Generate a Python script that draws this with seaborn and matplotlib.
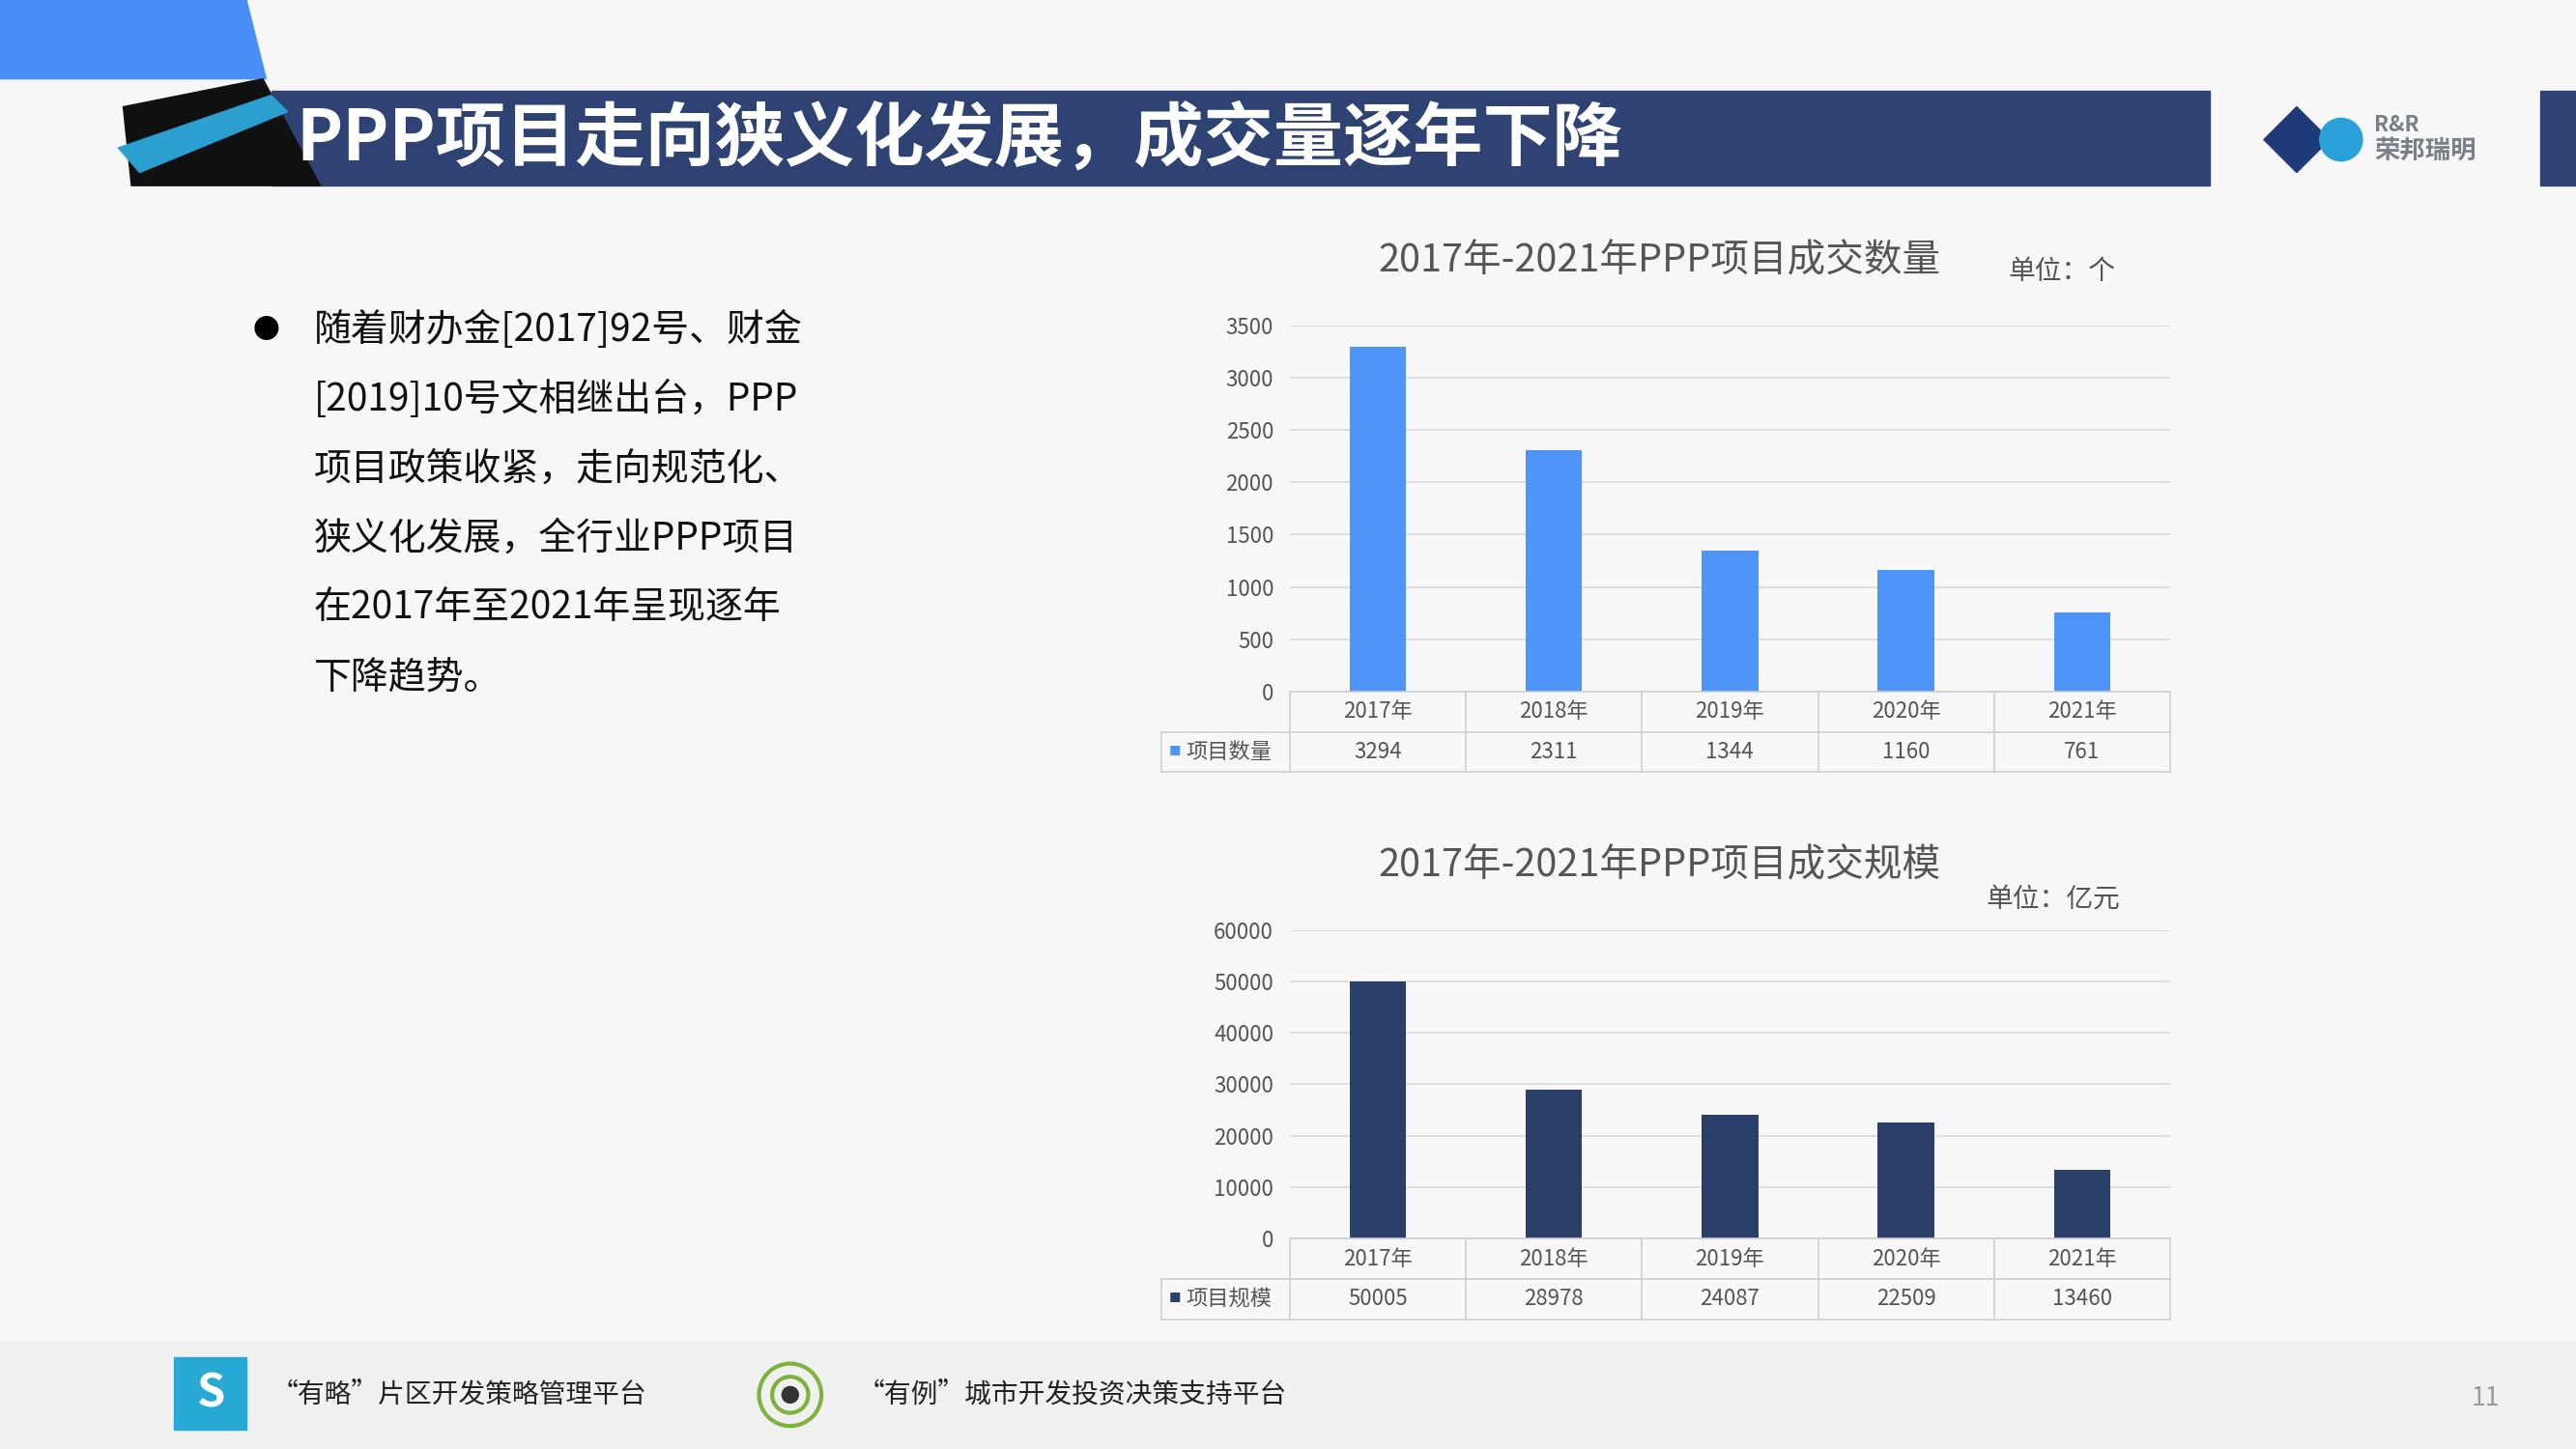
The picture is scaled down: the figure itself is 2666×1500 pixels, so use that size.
import matplotlib
matplotlib.use("Agg")
import matplotlib.pyplot as plt
import seaborn as sns
import pandas as pd
from matplotlib.patches import Rectangle, Polygon, Circle

plt.rcParams["font.family"] = ["Noto Sans CJK SC", "DejaVu Sans"]

years = ["2017年", "2018年", "2019年", "2020年", "2021年"]
counts = [3294, 2311, 1344, 1160, 761]
scales = [50005, 28978, 24087, 22509, 13460]
title = "PPP项目走向狭义化发展，成交量逐年下降"
bullet_lines = ["随着财办金[2017]92号、财金", "[2019]10号文相继出台，PPP", "项目政策收紧，走向规范化、",
                "狭义化发展，全行业PPP项目", "在2017年至2021年呈现逐年", "下降趋势。"]

W, H = 1568, 882
fig = plt.figure(figsize=(26.66, 15), dpi=100)
fig.patch.set_facecolor("#F7F7F7")
bg = fig.add_axes([0, 0, 1, 1]); bg.set_xlim(0, W); bg.set_ylim(H, 0); bg.axis("off")

# header
bg.add_patch(Polygon([[0, 0], [150, 0], [162, 48], [0, 48]], color="#4A8FF5"))
bg.add_patch(Rectangle((165, 55), 1180, 58, color="#2E4374"))
bg.add_patch(Polygon([[75, 65], [160, 48], [195, 113], [80, 113]], color="#111111"))
bg.add_patch(Polygon([[72, 90], [165, 58], [175, 68], [85, 105]], color="#2A9FD0"))
bg.text(180, 85, title, color="white", fontsize=52, fontweight="bold", va="center", ha="left")
bg.add_patch(Rectangle((1546, 55), 22, 58, color="#2E4374"))
bg.add_patch(Polygon([[1378, 85], [1398, 65], [1418, 85], [1398, 105]], color="#1E3A78"))
bg.add_patch(Circle((1425, 85), 13, color="#29A0D8"))
bg.text(1445, 76, "R&R", color="#7A7F87", fontsize=16, fontweight="bold", va="center")
bg.text(1445, 92, "荣邦瑞明", color="#7A7F87", fontsize=19, fontweight="bold", va="center")

# bullet text
bg.text(162, 201, "●", fontsize=20, va="center", ha="center")
for i, ln in enumerate(bullet_lines):
    bg.text(191, 201 + i * 42.4, ln, fontsize=28, va="center", ha="left", color="#111111")

# footer
bg.add_patch(Rectangle((0, 817), W, 65, color="#F0F0F0"))
bg.add_patch(Rectangle((106, 826), 44, 44, color="#27A9D6"))
bg.text(128, 848, "S", color="white", fontsize=34, fontweight="bold", ha="center", va="center")
bg.text(165, 849, "“有略”片区开发策略管理平台", fontsize=20, va="center", color="#222222")
bg.add_patch(Circle((481, 849), 19, fill=False, ec="#7DB33A", lw=3))
bg.add_patch(Circle((481, 849), 11, fill=False, ec="#7DB33A", lw=3))
bg.add_patch(Circle((481, 849), 5, color="#333333"))
bg.text(522, 849, "“有例”城市开发投资决策支持平台", fontsize=20, va="center", color="#222222")
bg.text(1513, 851, "11", fontsize=19, va="center", ha="center", color="#999999")

def chart(rect, vals, color, ymax, step, ttl, unit, unit_xy, label):
    ax = fig.add_axes(rect)
    df = pd.DataFrame({"year": years, "v": vals})
    sns.barplot(data=df, x="year", y="v", color=color, width=0.32, saturation=1, ax=ax)
    ax.set_facecolor("none")
    ax.set_xlim(-0.5, 4.5); ax.set_ylim(0, ymax)
    ax.set_yticks(range(0, ymax + 1, step))
    ax.tick_params(axis="y", labelsize=16, colors="#555555", length=0, pad=12)
    ax.set_xticks([]); ax.set_xlabel(""); ax.set_ylabel("")
    ax.grid(axis="y", color="#D9D9D9", lw=1.2); ax.set_axisbelow(True)
    for s in ax.spines.values(): s.set_visible(False)
    tr = ax.get_xaxis_transform()
    rh = 24.5 / (rect[3] * H)
    lc = "#CFCFCF"
    xl = -1.228
    for yy in [0, -rh, -2 * rh]:
        x0 = -0.5 if yy == 0 else xl
        ax.plot([x0, 4.5], [yy, yy], transform=tr, color=lc, lw=1.2, clip_on=False)
    ax.plot([xl, xl], [-rh, -2 * rh], transform=tr, color=lc, lw=1.2, clip_on=False)
    for k in range(6):
        ax.plot([k - 0.5, k - 0.5], [0, -2 * rh], transform=tr, color=lc, lw=1.2, clip_on=False)
    for k in range(5):
        ax.text(k, -rh / 2, years[k], transform=tr, ha="center", va="center", fontsize=16, color="#555555")
        ax.text(k, -1.5 * rh, str(vals[k]), transform=tr, ha="center", va="center", fontsize=16, color="#555555")
    ax.text(xl + 0.04, -1.5 * rh, "■", transform=tr, ha="left", va="center", fontsize=9, color=color)
    ax.text(xl + 0.14, -1.5 * rh, label, transform=tr, ha="left", va="center", fontsize=16, color="#555555")
    bg.text(1010, ttl[1], ttl[0], fontsize=28.5, ha="center", va="center", color="#555555")
    bg.text(unit_xy[0], unit_xy[1], unit, fontsize=20, ha="center", va="center", color="#555555")

chart([785 / W, 1 - 421 / H, 536 / W, 223 / H], counts, "#4F94F8", 3500, 500,
      ("2017年-2021年PPP项目成交数量", 159), "单位：个", (1255, 165), "项目数量")
chart([785 / W, 1 - 754 / H, 536 / W, 188 / H], scales, "#2B3F6B", 60000, 10000,
      ("2017年-2021年PPP项目成交规模", 527), "单位：亿元", (1250, 547), "项目规模")

fig.savefig("out.png", dpi=100, facecolor=fig.get_facecolor())
